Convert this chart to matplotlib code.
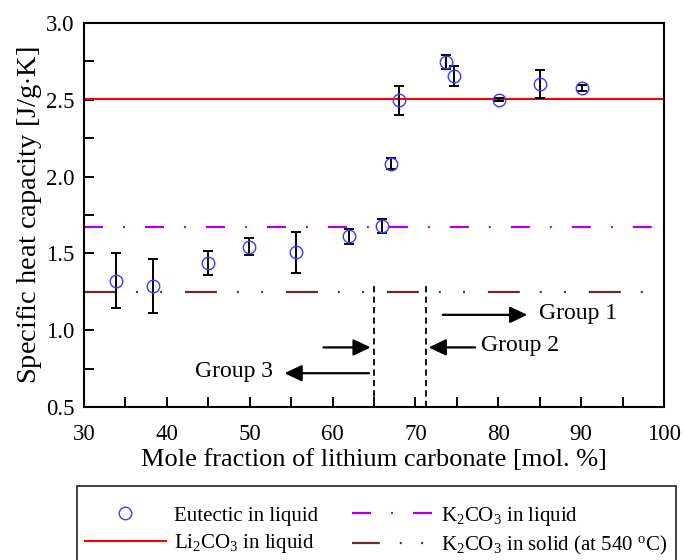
import matplotlib
matplotlib.use("Agg")
import matplotlib.pyplot as plt
from matplotlib.lines import Line2D
from matplotlib.ticker import MultipleLocator

plt.rcParams['font.family'] = ['Liberation Serif', 'DejaVu Serif']
plt.rcParams['mathtext.fontset'] = 'custom'
plt.rcParams['mathtext.rm'] = 'Liberation Serif'
plt.rcParams['mathtext.it'] = 'Liberation Serif:italic'
plt.rcParams['lines.scale_dashes'] = False

# ---- data ----
x_mol = [33.9, 38.3, 44.95, 49.9, 55.6, 62.0, 66.0, 67.0, 68.05, 73.7, 74.6, 80.1, 85.0, 90.1]
cp = [1.321, 1.289, 1.435, 1.541, 1.506, 1.612, 1.677, 2.084, 2.50, 2.744, 2.655, 2.50, 2.603, 2.578]
cp_lo = [1.144, 1.114, 1.358, 1.487, 1.373, 1.562, 1.631, 2.047, 2.403, 2.700, 2.588, 2.491, 2.513, 2.558]
cp_hi = [1.504, 1.466, 1.513, 1.599, 1.640, 1.659, 1.724, 2.119, 2.593, 2.791, 2.722, 2.511, 2.694, 2.597]

li2co3_liquid = 2.506
k2co3_liquid = 1.67
k2co3_solid = 1.246

group_boundaries = [64.95, 71.3]
boundary_top = 1.315

xticks = [30, 40, 50, 60, 70, 80, 90, 100]
yticks = [0.5, 1.0, 1.5, 2.0, 2.5, 3.0]

# ---- figure ----
fig = plt.figure(figsize=(6.83, 5.6), dpi=100)
ax = fig.add_axes([84/683, 1-407/560, (664-84)/683, (407-23)/560])

err_lo = [c - l for c, l in zip(cp, cp_lo)]
err_hi = [h - c for c, h in zip(cp, cp_hi)]

PURPLE = '#b000e0'
BROWN = '#6b2a2a'
BLUE = '#3a3aff'

ax.axhline(li2co3_liquid, color='#ff0000', lw=1.5, zorder=2)
ax.plot([30, 98.6], [k2co3_liquid]*2, color=PURPLE, lw=1.6,
        dashes=(13.7, 14.4, 1.4, 14.4), zorder=2)
ax.plot([30, 98.6], [k2co3_solid]*2, color=BROWN, lw=1.6,
        dashes=(23, 14.4, 1.4, 16, 1.4, 16.5), zorder=2)

ax.errorbar(x_mol, cp, yerr=[err_lo, err_hi], fmt='none', ecolor='black',
            elinewidth=1.4, capsize=3.3, capthick=1.4, zorder=3)
ax.plot(x_mol, cp, 'o', ms=9, mfc='none', mec=BLUE, mew=1.0, zorder=4)

for xb in group_boundaries:
    ax.plot([xb, xb], [0.5, boundary_top], color='black', lw=1.3,
            dashes=(4.5, 3), zorder=2)

arrow_kw = dict(arrowstyle='-|>,head_length=1.05,head_width=0.5', color='black', lw=1.6,
                shrinkA=0, shrinkB=0)
ax.annotate('', xy=(83.5, 1.10), xytext=(73.3, 1.10), arrowprops=arrow_kw)
ax.annotate('', xy=(71.6, 0.888), xytext=(77.2, 0.888), arrowprops=arrow_kw)
ax.annotate('', xy=(64.6, 0.888), xytext=(58.9, 0.888), arrowprops=arrow_kw)
ax.annotate('', xy=(54.2, 0.72), xytext=(64.4, 0.72), arrowprops=arrow_kw)
ax.text(84.9, 1.11, 'Group 1', fontsize=17, va='center', ha='left')
ax.text(77.9, 0.898, 'Group 2', fontsize=17, va='center', ha='left')
ax.text(52.8, 0.73, 'Group 3', fontsize=17, va='center', ha='right')

ax.set_xlim(30, 100)
ax.set_ylim(0.5, 3.0)
ax.set_xticks(xticks)
ax.set_yticks(yticks)
ax.xaxis.set_minor_locator(MultipleLocator(5))
ax.yaxis.set_minor_locator(MultipleLocator(0.25))
ax.set_yticklabels([f'{v:.1f}' for v in yticks])
ax.tick_params(which='both', direction='in', length=7, width=1.4, labelsize=16.5,
               top=False, right=False)
ax.tick_params(axis='x', which='both', pad=12)
ax.tick_params(axis='y', which='both', pad=7)
for s in ax.spines.values():
    s.set_linewidth(1.5)

ax.set_xlabel('Mole fraction of lithium carbonate [mol. %]', fontsize=19, labelpad=3)
ax.set_ylabel('Specific heat capacity [J/g$\\cdot$K]', fontsize=20.5, labelpad=1)

handles = [
    Line2D([], [], ls='none', marker='o', ms=9, mfc='none', mec=BLUE, mew=1.0),
    Line2D([], [], color='#ff0000', lw=1.5),
    Line2D([], [], color=PURPLE, lw=1.6, dashes=(13.7, 14.4, 1.4, 14.4)),
    Line2D([], [], color=BROWN, lw=1.6, dashes=(20, 14.4, 1.4, 14, 1.4, 14)),
]
labels = ['Eutectic in liquid', 'Li$_2$CO$_3$ in liquid',
          'K$_2$CO$_3$ in liquid', 'K$_2$CO$_3$ in solid (at 540 $^{\\mathrm{o}}$C)']
leg = fig.legend(handles, labels, ncol=2, loc='upper left',
                 bbox_to_anchor=(77/683, 1-486/560), fontsize=15,
                 title=' ', title_fontsize=2,
                 frameon=True, fancybox=False, edgecolor='black',
                 handlelength=3.85, handletextpad=0.43, columnspacing=1.6,
                 labelspacing=0.3, borderpad=0.4, borderaxespad=0)
leg.get_frame().set_linewidth(1.3)

fig.savefig('out.png', dpi=100)
